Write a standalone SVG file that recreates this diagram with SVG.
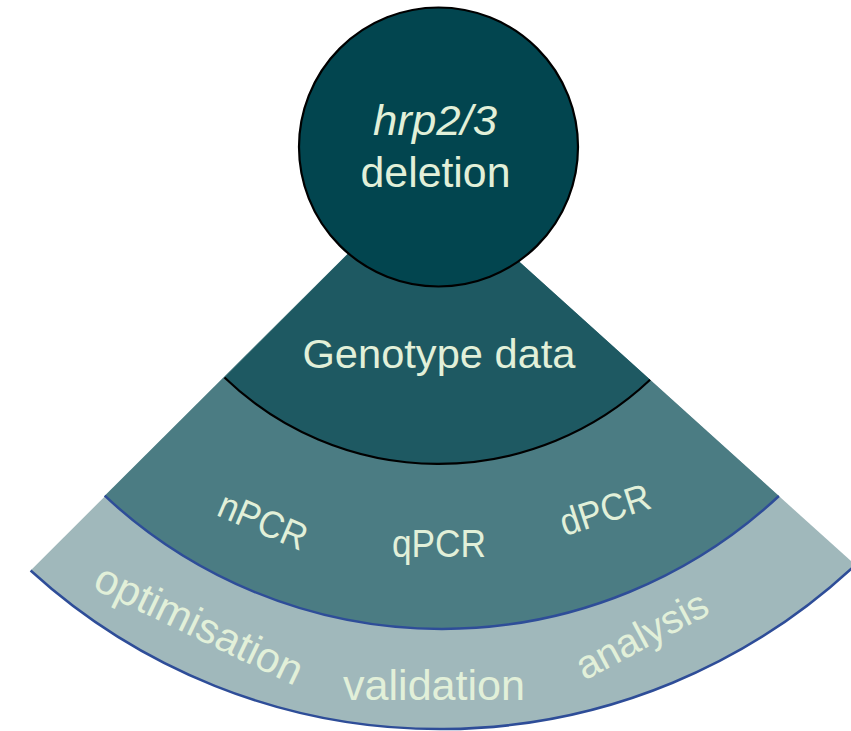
<svg xmlns="http://www.w3.org/2000/svg" width="851" height="731" viewBox="0 0 851 731">
  <style>
    .lbl { font-family: "Liberation Sans", Arial, sans-serif; fill: #E2F0D9; text-anchor: middle; }
    .blue { fill: none; stroke: #2E4D98; stroke-width: 2.5; }
    .black { fill: none; stroke: #000000; stroke-width: 2.2; }
  </style>
  <rect width="851" height="731" fill="#FFFFFF"/>

  <g id="band-steps">
    <path d="M 401.8,200 L 30.6,570.5 A 607.6 607.6 0 0 0 855.3,565 L 450.9,200 Z" fill="#A0B8BB"/>
    <path class="blue" d="M 30.6,570.5 A 607.6 607.6 0 0 0 855.3,565"/>
    <text class="lbl" font-size="42" transform="translate(193,637) rotate(25.7)" textLength="226" lengthAdjust="spacingAndGlyphs">optimisation</text>
    <text class="lbl" font-size="42" x="434" y="700" textLength="182" lengthAdjust="spacingAndGlyphs">validation</text>
    <text class="lbl" font-size="40" transform="translate(648,647) rotate(-28)" textLength="144" lengthAdjust="spacingAndGlyphs">analysis</text>
  </g>

  <g id="band-methods">
    <path d="M 401.8,200 L 104.7,495.7 A 493.4 493.4 0 0 0 778.9,496 L 450.9,200 Z" fill="#4B7C83"/>
    <path class="blue" d="M 104.7,495.7 A 493.4 493.4 0 0 0 778.9,496"/>
    <text class="lbl" font-size="38" transform="translate(258,533) rotate(23)" textLength="93" lengthAdjust="spacingAndGlyphs">nPCR</text>
    <text class="lbl" font-size="38" x="439" y="557" textLength="94" lengthAdjust="spacingAndGlyphs">qPCR</text>
    <text class="lbl" font-size="38" transform="translate(609,522) rotate(-18)" textLength="93" lengthAdjust="spacingAndGlyphs">dPCR</text>
  </g>

  <g id="band-genotype">
    <path d="M 401.8,200 L 224.5,377.5 A 308.1 308.1 0 0 0 650.1,379.8 L 450.9,200 Z" fill="#1E5962"/>
    <path class="black" d="M 224.5,377.5 A 308.1 308.1 0 0 0 650.1,379.8"/>
    <text class="lbl" font-size="40" x="439" y="368" textLength="273" lengthAdjust="spacingAndGlyphs">Genotype data</text>
  </g>

  <g id="node-deletion">
    <circle cx="438.5" cy="147" r="139.5" fill="#02454F" stroke="#000000" stroke-width="2.2"/>
    <text class="lbl" font-size="43" font-style="italic" x="435" y="135" textLength="124" lengthAdjust="spacingAndGlyphs">hrp2/3</text>
    <text class="lbl" font-size="42" x="435.5" y="187" textLength="150" lengthAdjust="spacingAndGlyphs">deletion</text>
  </g>
</svg>
